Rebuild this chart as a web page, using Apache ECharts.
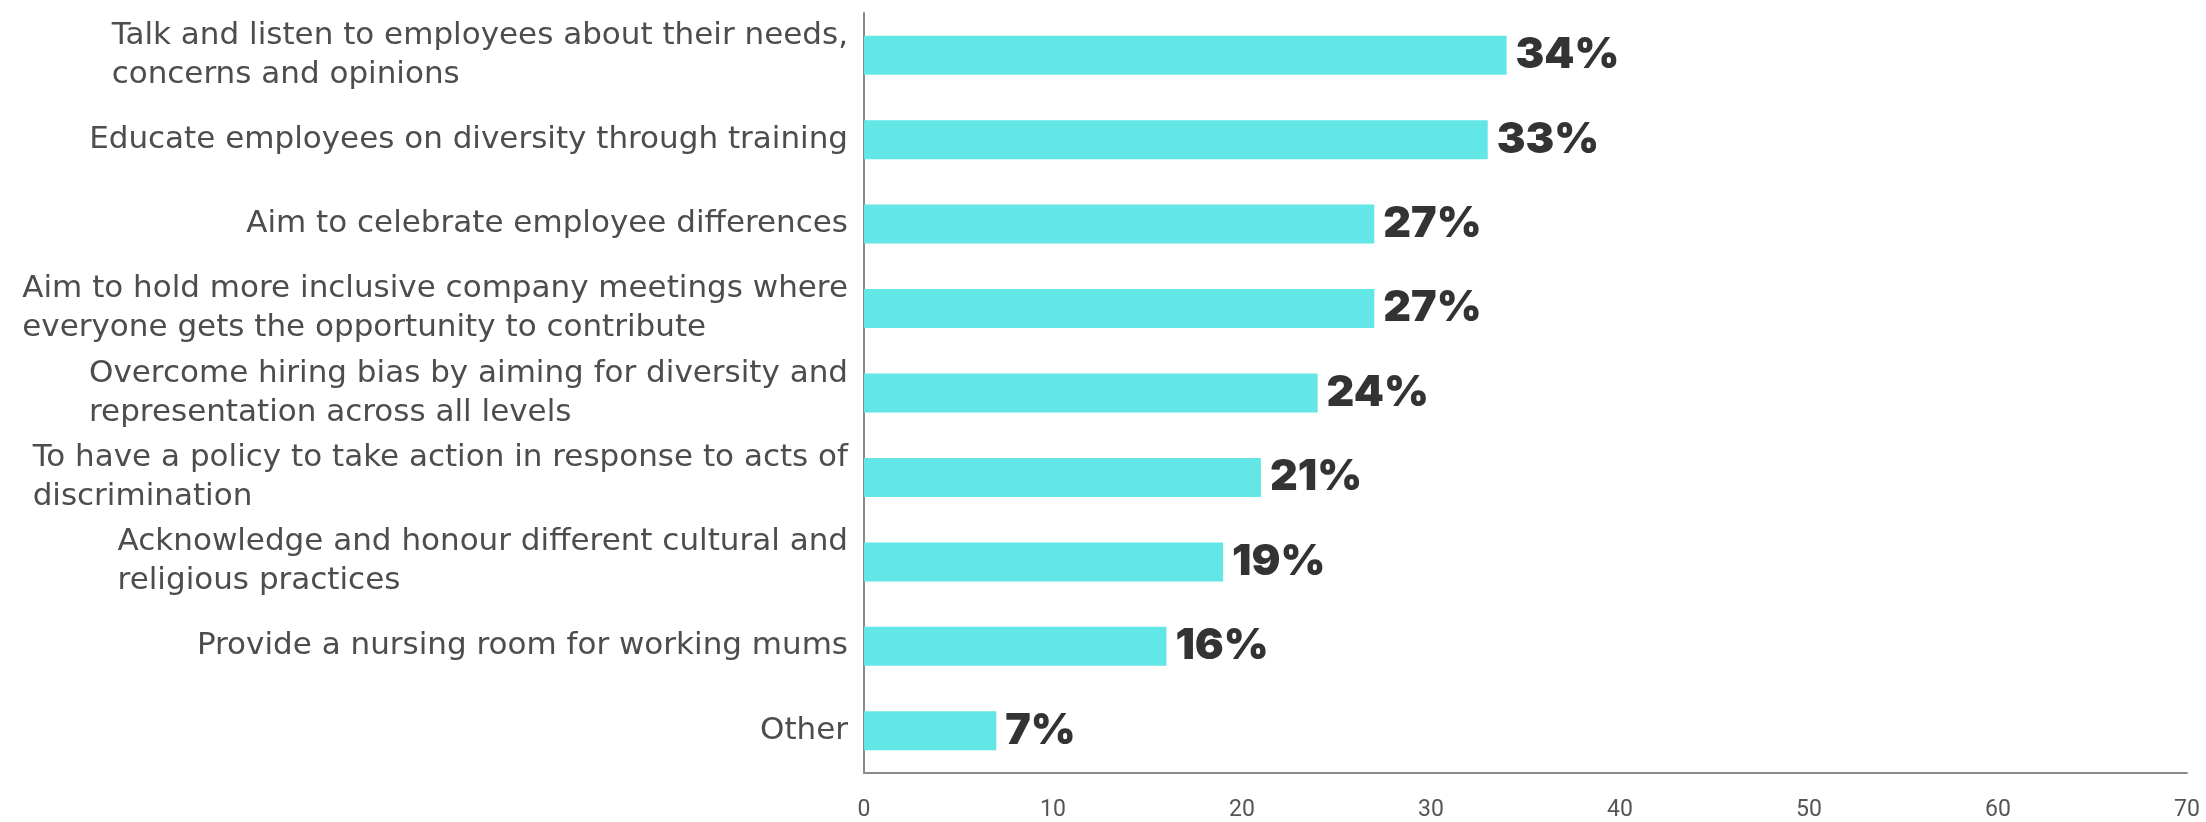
<!DOCTYPE html>
<html>
<head>
<meta charset="utf-8">
<script src="https://cdn.jsdelivr.net/npm/echarts@6/dist/echarts.min.js"></script>
<style>
html,body{margin:0;padding:0;background:#fff;}
#chart{width:2206px;height:822px;}
</style>
</head>
<body>
<div id="chart"></div>
<script>
const categories = [
  "Talk and listen to employees about their needs,\nconcerns and opinions",
  "Educate employees on diversity through training",
  "Aim to celebrate employee differences",
  "Aim to hold more inclusive company meetings where\neveryone gets the opportunity to contribute",
  "Overcome hiring bias by aiming for diversity and\nrepresentation across all levels",
  "To have a policy to take action in response to acts of\ndiscrimination",
  "Acknowledge and honour different cultural and\nreligious practices",
  "Provide a nursing room for working mums",
  "Other"
];
const values = [34, 33, 27, 27, 24, 21, 19, 16, 7];
const xTicks = { min: 0, max: 70, interval: 10 };

const labelFont = { fontFamily: 'DejaVu Sans', fontSize: 31, lineHeight: 39, color: '#4d4d4d' };

const chart = echarts.init(document.getElementById('chart'), null, { renderer: 'canvas' });
chart.setOption({
  animation: false,
  backgroundColor: '#ffffff',
  grid: { left: 864, right: 19, top: 13, bottom: 46, containLabel: false },
  xAxis: {
    type: 'value',
    min: xTicks.min, max: xTicks.max, interval: xTicks.interval,
    axisLine: { show: true, lineStyle: { color: '#8a8a8a', width: 2 } },
    axisTick: { show: false },
    splitLine: { show: false },
    axisLabel: { color: '#555', fontFamily: 'Roboto', fontSize: 23, margin: 26 }
  },
  yAxis: {
    type: 'category',
    inverse: true,
    data: categories,
    axisLine: { show: true, lineStyle: { color: '#8a8a8a', width: 2 } },
    axisTick: { show: false },
    axisLabel: Object.assign({
      margin: 16, align: 'right',
      formatter: v => v.split('\n').map(s => '{l|' + s + '}').join('\n'),
      rich: { l: Object.assign({ align: 'left' }, labelFont) }
    }, labelFont)
  },
  series: [{
    type: 'bar',
    data: values,
    barWidth: 39,
    itemStyle: { color: '#62e6e6' },
    label: {
      show: true, position: 'right', distance: 9,
      formatter: p => p.value + '%',
      color: '#333', fontFamily: 'Inter', fontWeight: 900, fontSize: 43
    }
  }]
});
</script>
</body>
</html>
